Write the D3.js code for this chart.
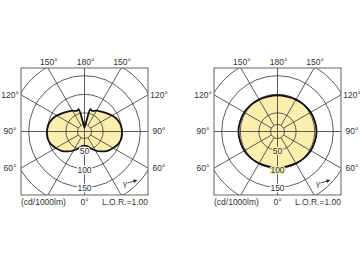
<!DOCTYPE html>
<html>
<head>
<meta charset="utf-8">
<script src="https://cdn.jsdelivr.net/npm/d3@7"></script>
<style>
  body { margin: 0; background: #fff; }
  svg { display: block; }
  text { font-family: "Liberation Sans", Arial, sans-serif; fill: #333; }
</style>
</head>
<body>
<svg id="chart" width="360" height="262"></svg>
<script>
// luminous intensity (cd/1000lm) per gamma angle
const gammaLeft = [0, 10, 20, 30, 40, 50, 60, 70, 80, 90, 100, 110, 120, 130, 140, 150, 160, 165, 170, 175, 180];
const cdLeft = [38, 40, 48, 59, 70, 81, 89, 97, 101, 101, 99, 94, 86, 77, 70, 65, 59, 62, 27, 16, 11];

const gammaRight = [0, 15, 30, 45, 60, 75, 90, 105, 120, 135, 150, 165, 180];
const cdRightC0 = [97, 97, 99, 101, 103, 104, 105, 104, 103, 101, 99, 97, 97];
const cdRightC90 = [97, 97, 99, 101, 103, 104, 105, 104, 103, 102, 101, 100, 100];

const rings = [50, 100, 150, 200];
const ringLabels = [50, 100, 150];
const spokes = [0, 30, 60, 90, 120, 150, 180];
const topLabels = ["150°", "180°", "150°"];
const sideLabels = ["120°", "90°", "60°"];
const bottomLabel = "0°";
const unitText = "(cd/1000lm)";
const lorText = "L.O.R.=1.00";

const svg = d3.select("#chart");
const fillColor = "#fbefb0";
const half = 63.5;
const cy = 131.5;

function drawDiagram(id, cx, gammas, mainValues, extraValues) {
  const r = d3.scaleLinear().domain([0, 200]).range([0, 74.4]);
  const g = svg.append("g").attr("transform", `translate(${cx},${cy})`);

  g.append("defs").append("clipPath").attr("id", "clip-" + id)
    .append("rect")
    .attr("x", -half).attr("y", -half)
    .attr("width", half * 2).attr("height", half * 2);

  const plot = g.append("g").attr("clip-path", `url(#clip-${id})`);

  // closed outline: right half going up, then left half coming down
  function outline(values) {
    const pts = gammas.map((ga, i) => ({ a: Math.PI - ga * Math.PI / 180, v: values[i] }));
    for (let i = gammas.length - 2; i > 0; i--) {
      pts.push({ a: Math.PI + gammas[i] * Math.PI / 180, v: values[i] });
    }
    return d3.lineRadial()
      .angle(d => d.a)
      .radius(d => r(d.v))
      .curve(d3.curveCatmullRomClosed.alpha(0.5))(pts);
  }

  plot.append("path")
    .attr("d", outline(mainValues))
    .attr("fill", fillColor)
    .attr("stroke", "none");

  // grid
  const grid = plot.append("g")
    .attr("stroke", "#333")
    .attr("stroke-width", 0.8)
    .attr("fill", "none");

  grid.selectAll("circle.ring")
    .data(rings)
    .join("circle")
    .attr("class", "ring")
    .attr("r", d => r(d));

  grid.append("circle").attr("r", 7);

  const hub = 7;
  const far = 120;
  const spokeAngles = [];
  spokes.forEach(s => {
    spokeAngles.push(s);
    if (s !== 0 && s !== 180) spokeAngles.push(-s);
  });
  grid.selectAll("line.spoke")
    .data(spokeAngles)
    .join("line")
    .attr("class", "spoke")
    .attr("x1", d => (d % 90 === 0 ? 0 : hub * Math.sin(d * Math.PI / 180)))
    .attr("y1", d => (d % 90 === 0 ? 0 : hub * Math.cos(d * Math.PI / 180)))
    .attr("x2", d => far * Math.sin(d * Math.PI / 180))
    .attr("y2", d => far * Math.cos(d * Math.PI / 180));

  if (extraValues) {
    plot.append("path")
      .attr("d", outline(extraValues))
      .attr("fill", "none")
      .attr("stroke", "#555")
      .attr("stroke-width", 0.7);
  }

  plot.append("path")
    .attr("d", outline(mainValues))
    .attr("fill", "none")
    .attr("stroke", "#111")
    .attr("stroke-width", 1.8)
    .attr("stroke-linejoin", "round");

  // frame
  g.append("rect")
    .attr("x", -half).attr("y", -half)
    .attr("width", half * 2).attr("height", half * 2)
    .attr("fill", "none")
    .attr("stroke", "#555")
    .attr("stroke-width", 0.9);

  // ring values along the 0 deg axis
  const cd0 = mainValues[0];
  g.selectAll("text.ringlab")
    .data(ringLabels)
    .join("text")
    .attr("class", "ringlab")
    .attr("x", 0)
    .attr("y", d => r(d) + 1)
    .attr("dy", "0.35em")
    .attr("text-anchor", "middle")
    .attr("font-size", 8.5)
    .attr("stroke", d => (d <= cd0 * 1.05 ? fillColor : "#fff"))
    .attr("stroke-width", 2.5)
    .attr("paint-order", "stroke")
    .text(d => d);

  // angle labels
  const t30 = half * Math.tan(Math.PI / 6);
  const topX = [-t30, 0, t30];
  g.selectAll("text.top")
    .data(topLabels)
    .join("text")
    .attr("class", "top")
    .attr("x", (d, i) => topX[i] + 1)
    .attr("y", -half - 3.5)
    .attr("text-anchor", "middle")
    .attr("font-size", 8.5)
    .text(d => d);

  const sideY = [-t30, 0, t30];
  [-1, 1].forEach(side => {
    g.selectAll("text.side" + side)
      .data(sideLabels)
      .join("text")
      .attr("x", side * (half + 11))
      .attr("y", (d, i) => sideY[i])
      .attr("dy", "0.35em")
      .attr("text-anchor", "middle")
      .attr("font-size", 8.5)
      .text(d => d);
  });

  g.append("text")
    .attr("x", 0).attr("y", half + 10)
    .attr("text-anchor", "middle")
    .attr("font-size", 8.5)
    .text(bottomLabel);

  g.append("text")
    .attr("x", -half).attr("y", half + 10)
    .attr("font-size", 8.5)
    .text(unitText);

  g.append("text")
    .attr("x", half).attr("y", half + 10)
    .attr("text-anchor", "end")
    .attr("font-size", 8.5)
    .text(lorText);

  // gamma direction marker
  g.append("text")
    .attr("x", 38.5).attr("y", 54)
    .attr("font-size", 8)
    .text("γ");
  g.append("line")
    .attr("x1", 43).attr("y1", 51.5)
    .attr("x2", 50).attr("y2", 49.5)
    .attr("stroke", "#222").attr("stroke-width", 0.8);
  g.append("path")
    .attr("d", "M53,48.6 L48.6,48 L49.6,51.6 Z")
    .attr("fill", "#222");
}

drawDiagram("a", 84.5, gammaLeft, cdLeft, null);
drawDiagram("b", 277.5, gammaRight, cdRightC0, cdRightC90);
</script>
</body>
</html>
